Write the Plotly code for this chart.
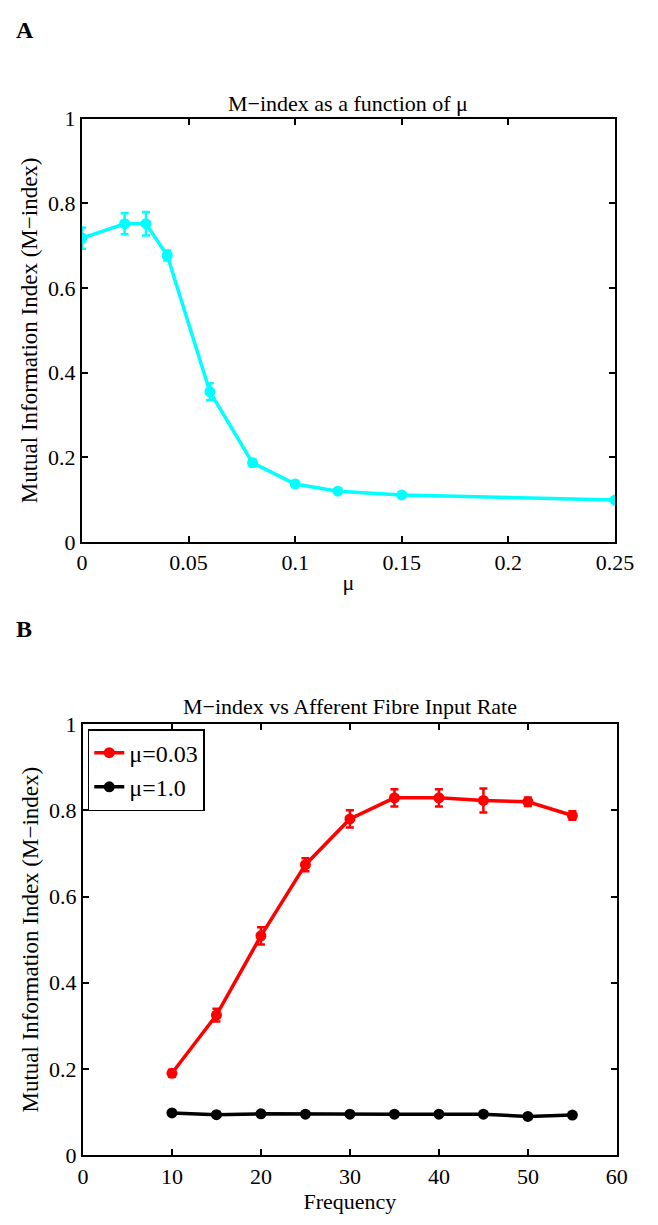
import plotly.graph_objects as go

# Panel A data
mu = [0, 0.02, 0.03, 0.04, 0.06, 0.08, 0.10, 0.12, 0.15, 0.25]
m_index_a = [0.718, 0.752, 0.752, 0.677, 0.355, 0.187, 0.137, 0.120, 0.111, 0.099]
err_a = [0.025, 0.025, 0.028, 0.012, 0.020, 0.008, 0.007, 0.006, 0.005, 0.005]

# Panel B data
freq = [10, 15, 20, 25, 30, 35, 40, 45, 50, 55]
m_red = [0.190, 0.325, 0.509, 0.674, 0.780, 0.829, 0.829, 0.823, 0.820, 0.788]
err_red = [0.008, 0.015, 0.020, 0.015, 0.020, 0.020, 0.020, 0.028, 0.010, 0.010]
m_black = [0.098, 0.094, 0.096, 0.095, 0.095, 0.095, 0.095, 0.095, 0.090, 0.093]
err_black = [0.004, 0.004, 0.004, 0.004, 0.004, 0.004, 0.004, 0.004, 0.004, 0.004]

W, H = 658, 1225
FONT = "Liberation Serif"

fig = go.Figure()

fig.add_trace(go.Scatter(
    x=mu, y=m_index_a, mode="lines+markers",
    line=dict(color="#00FFFF", width=3.5),
    marker=dict(symbol="circle", size=11, color="#00FFFF"),
    error_y=dict(type="data", array=err_a, color="#00FFFF", thickness=2.5, width=4),
    xaxis="x", yaxis="y", showlegend=False))

fig.add_trace(go.Scatter(
    x=freq, y=m_red, mode="lines+markers", name="μ=0.03",
    line=dict(color="#FF0000", width=3.5),
    marker=dict(symbol="circle", size=11, color="#FF0000"),
    error_y=dict(type="data", array=err_red, color="#FF0000", thickness=2.5, width=4),
    xaxis="x2", yaxis="y2"))

fig.add_trace(go.Scatter(
    x=freq, y=m_black, mode="lines+markers", name="μ=1.0",
    line=dict(color="#000000", width=3.5),
    marker=dict(symbol="circle", size=11, color="#000000"),
    error_y=dict(type="data", array=err_black, color="#000000", thickness=2.5, width=4),
    xaxis="x2", yaxis="y2"))

xdomA = [79 / W, 633 / W]
xdomB = [80 / W, 635 / W]
ydomA = [1 - 541 / H, 1 - 109 / H]
ydomB = [1 - 1167 / H, 1 - 727 / H]

axis_common = dict(
    showline=True, linecolor="black", linewidth=2, mirror="ticks",
    ticks="inside", ticklen=6, tickwidth=1.5, tickcolor="black",
    showgrid=False, zeroline=False,
    tickfont=dict(family=FONT, size=22, color="black"),
)

fig.update_layout(
    width=W, height=H,
    margin=dict(l=0, r=0, t=0, b=0),
    paper_bgcolor="white", plot_bgcolor="white",
    font=dict(family=FONT, color="black"),
    xaxis=dict(domain=xdomA, anchor="y", range=[0, 0.25],
               tickvals=[0, 0.05, 0.1, 0.15, 0.2, 0.25],
               ticktext=["0", "0.05", "0.1", "0.15", "0.2", "0.25"],
               title=dict(text="μ", font=dict(family=FONT, size=22), standoff=0),
               **axis_common),
    yaxis=dict(domain=ydomA, anchor="x", range=[0, 1],
               tickvals=[0, 0.2, 0.4, 0.6, 0.8, 1],
               ticktext=["0", "0.2", "0.4", "0.6", "0.8", "1"],
               title=dict(text="Mutual Information Index (M−index)", font=dict(family=FONT, size=23), standoff=4),
               **axis_common),
    xaxis2=dict(domain=xdomB, anchor="y2", range=[0, 60],
                tickvals=[0, 10, 20, 30, 40, 50, 60],
                title=dict(text="Frequency", font=dict(family=FONT, size=22), standoff=0),
                **axis_common),
    yaxis2=dict(domain=ydomB, anchor="x2", range=[0, 1],
                tickvals=[0, 0.2, 0.4, 0.6, 0.8, 1],
                ticktext=["0", "0.2", "0.4", "0.6", "0.8", "1"],
                title=dict(text="Mutual Information Index (M−index)", font=dict(family=FONT, size=23), standoff=4),
                **axis_common),
    legend=dict(x=85 / W, y=1 - 732 / H, xanchor="left", yanchor="top",
                bordercolor="black", borderwidth=1.5, bgcolor="white",
                font=dict(family=FONT, size=24, color="black"),
                tracegroupgap=0, itemwidth=30),
    annotations=[
        dict(text="<b>A</b>", x=8 / W, y=1 - 18 / H, xref="paper", yref="paper",
             xanchor="left", yanchor="middle", showarrow=False,
             font=dict(family=FONT, size=24, color="black")),
        dict(text="<b>B</b>", x=8 / W, y=1 - 630 / H, xref="paper", yref="paper",
             xanchor="left", yanchor="middle", showarrow=False,
             font=dict(family=FONT, size=24, color="black")),
        dict(text="M−index as a function of μ", x=(79 + 633) / 2 / W, y=1 - 93 / H,
             xref="paper", yref="paper", xanchor="center", yanchor="middle",
             showarrow=False, font=dict(family=FONT, size=22, color="black")),
        dict(text="M−index vs Afferent Fibre Input Rate", x=(80 + 635) / 2 / W, y=1 - 709 / H,
             xref="paper", yref="paper", xanchor="center", yanchor="middle",
             showarrow=False, font=dict(family=FONT, size=22, color="black")),
    ],
)

fig.write_html("out.html", config={"displayModeBar": False},
               post_script="document.body.style.margin='0';document.body.style.overflow='hidden';")
